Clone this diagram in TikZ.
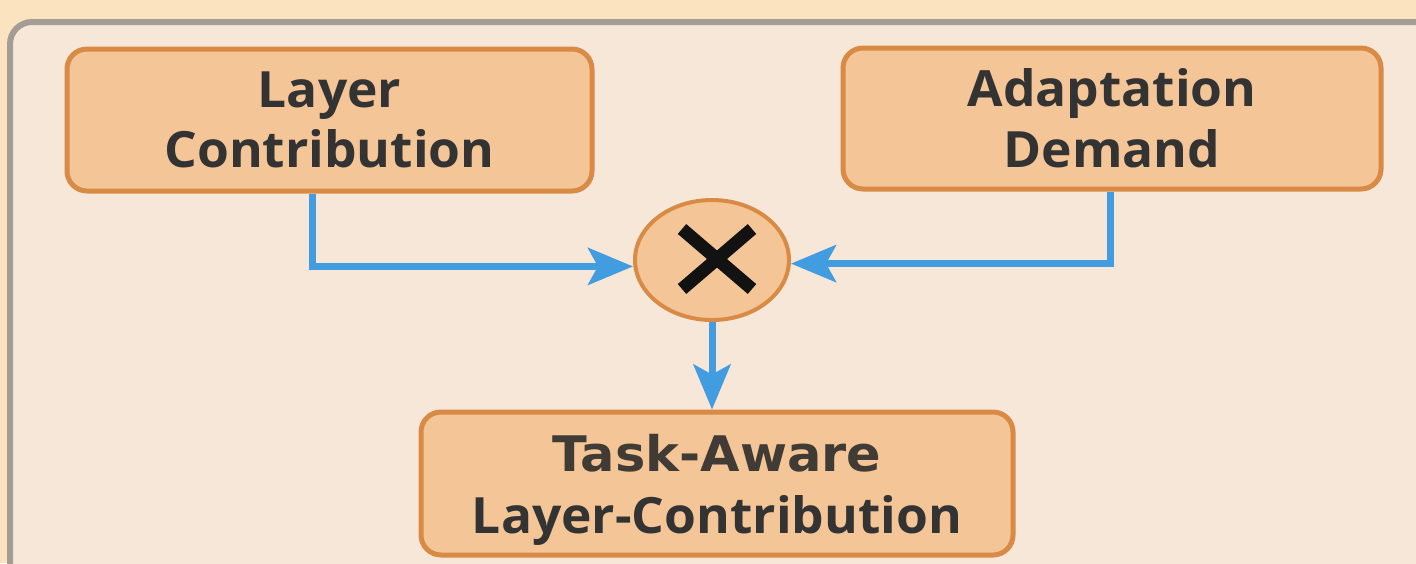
\documentclass[tikz,border=0pt]{standalone}
\usepackage{fontspec}
\setmainfont{Open Sans}[FakeStretch=1.03]
\newfontfamily\headfont{DejaVu Sans}[FakeStretch=1.04]
\usetikzlibrary{arrows.meta,shapes.geometric}
\definecolor{pagebg}{HTML}{FCE3C0}
\definecolor{panelbg}{HTML}{F7E7D8}
\definecolor{panelrule}{HTML}{A39D96}
\definecolor{boxfill}{HTML}{F4C596}
\definecolor{boxrule}{HTML}{D98B45}
\definecolor{flow}{HTML}{419DE0}
\definecolor{ink}{HTML}{333333}
\definecolor{inkwarm}{HTML}{413B36}
\definecolor{cross}{HTML}{121212}
\tikzset{
  block/.style={draw=boxrule, fill=boxfill, line width=2.5pt, rounded corners=10pt,
    inner sep=0pt, align=center, text=ink},
  opnode/.style={ellipse, draw=boxrule, fill=boxfill, line width=2pt, inner sep=0pt},
  flowline/.style={draw=flow, line width=3.5pt,
    -{Stealth[length=22.5pt,width=18.5pt,inset=5pt]}},
}
\begin{document}
\begin{tikzpicture}[x=0.5pt,y=-0.5pt]
  \useasboundingbox (0,0) rectangle (1416,563);
  \fill[pagebg] (0,0) rectangle (1416,563);
  % panel running off the right and bottom edges
  \begin{scope}
    \clip (0,0) rectangle (1416,563);
    \draw[panelrule, fill=panelbg, line width=3pt, rounded corners=11pt]
      (10,640) -- (10,22) -- (1480,22) -- (1480,640) -- cycle;
  \end{scope}

  \node[block, minimum width=262.5pt, minimum height=71pt,
        font=\fontsize{25}{30}\selectfont\bfseries] (lc) at (329.5,120)
    {Layer\\Contribution};
  \node[block, minimum width=269pt, minimum height=70.5pt,
        font=\fontsize{25}{30.5}\selectfont\bfseries] (ad) at (1112,118.5)
    {Adaptation\\Demand};
  \node[block, minimum width=296pt, minimum height=71.5pt, text depth=0pt,
        font=\fontsize{25}{31}\selectfont\bfseries] (ta) at (717,483.5)
    {{\headfont\fontsize{24.5}{31}\selectfont\bfseries\color{inkwarm}Task-Aware}\\Layer-Contribution};
  \node[opnode, minimum width=77pt, minimum height=60pt] (mul) at (712,260) {};

  % multiplication mark
  \draw[cross, line width=6.5pt] (682,229) -- (752,289) (752,229) -- (682,289);

  \draw[flowline] ([xshift=124pt]lc.south west) |- ([yshift=-3.2pt]mul.west);
  \draw[flowline] ([xshift=-136.5pt]ad.south east) |- ([yshift=-1.8pt]mul.east);
  \draw[flowline] (mul.south) -- (mul.south |- ta.north);
\end{tikzpicture}
\end{document}
